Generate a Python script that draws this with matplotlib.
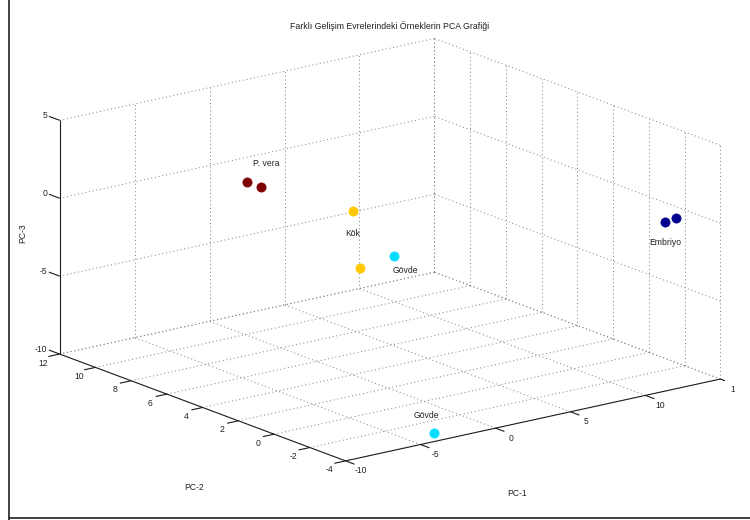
import numpy as np
import matplotlib
matplotlib.use("Agg")
import matplotlib.pyplot as plt
from matplotlib.lines import Line2D
from matplotlib.transforms import Bbox
from mpl_toolkits.mplot3d import proj3d

plt.rcParams["font.family"] = ["Liberation Sans", "DejaVu Sans"]

# ---- PCA scores of the samples -------------------------------------------
sample_group = ["P. vera", "P. vera", "Kök", "Kök", "Gövde", "Gövde", "Embriyo", "Embriyo"]
pc1 = [0.8, 1.2, -6.5, -7.0, -6.0, -3.6, 13.0, 13.6]
pc2 = [10.6, 10.1, -1.5, -2.3, -3.35, -3.6, -2.6, -2.7]
pc3 = [-0.6, -0.8, 4.2, 1.0, 2.0, -9.7, -0.1, 0.1]

group_names = ["P. vera", "Kök", "Gövde", "Embriyo"]
group_colors = ["#7f0000", "#ffc800", "#00ddff", "#00008f"]

# text annotations anchored in data space
label_text = ["P. vera", "Kök", "Gövde", "Gövde", "Embriyo"]
label_pc1 = [1.2, -7.05, -6.1, -5.0, 11.9]
label_pc2 = [10.6, -1.5, -3.35, -3.6, -2.6]
label_pc3 = [0.5, 2.9, 1.1, -8.3, -1.2]

pc1_ticks = [-10, -5, 0, 5, 10, 15]
pc2_ticks = [-4, -2, 0, 2, 4, 6, 8, 10, 12]
pc3_ticks = [-10, -5, 0, 5]

X0, X1 = -10, 15
Y0, Y1 = -4, 12
Z0, Z1 = -10, 5

FS = 6.2
W_PX, H_PX = 750, 520
TXT = "#222222"

fig = plt.figure(figsize=(7.5, 5.2), dpi=100, facecolor="white")
side = 480
ax = fig.add_axes([(W_PX - side) / 2 / W_PX, (H_PX - side) / 2 / H_PX,
                   side / W_PX, side / H_PX],
                  projection="3d", proj_type="ortho")
ax.set_xlim(X0, X1)
ax.set_ylim(Y0, Y1)
ax.set_zlim(Z0, Z1)
ax.set_box_aspect((472, 471, 244))
ax.view_init(elev=16.6, azim=-127.4)
ax.set_axis_off()
ax.computed_zorder = False
ax.patch.set_alpha(0)

grid_kw = dict(color="#8a8a8a", lw=0.75, linestyle=(0, (1, 2.6)), zorder=1)
axis_kw = dict(color="#1a1a1a", lw=0.8, solid_capstyle="butt", zorder=2)

# floor grid (PC-3 = Z0)
for t in pc1_ticks[1:]:
    ax.plot([t, t], [Y0, Y1], [Z0, Z0], **grid_kw)
for t in pc2_ticks[1:]:
    ax.plot([X0, X1], [t, t], [Z0, Z0], **grid_kw)
# back wall at PC-2 = Y1
for t in pc1_ticks[1:]:
    ax.plot([t, t], [Y1, Y1], [Z0, Z1], **grid_kw)
for t in pc3_ticks:
    ax.plot([X0, X1], [Y1, Y1], [t, t], **grid_kw)
# back wall at PC-1 = X1
for t in pc2_ticks:
    ax.plot([X1, X1], [t, t], [Z0, Z1], **grid_kw)
for t in pc3_ticks:
    ax.plot([X1, X1], [Y0, Y1], [t, t], **grid_kw)

# solid axis lines
ax.plot([X0, X1], [Y0, Y0], [Z0, Z0], **axis_kw)
ax.plot([X0, X0], [Y0, Y1], [Z0, Z0], **axis_kw)
ax.plot([X0, X0], [Y1, Y1], [Z0, Z1], **axis_kw)

# tick marks
for t in pc1_ticks:
    ax.plot([t, t], [Y0, Y0 - 0.5], [Z0, Z0], **axis_kw)
for t in pc2_ticks:
    ax.plot([X0, X0 - 0.75], [t, t], [Z0, Z0], **axis_kw)
for t in pc3_ticks:
    ax.plot([X0, X0], [Y1, Y1 + 0.6], [t, t], **axis_kw)

# sample points
for name, col in zip(group_names, group_colors):
    idx = [i for i, g in enumerate(sample_group) if g == name]
    ax.scatter([pc1[i] for i in idx], [pc2[i] for i in idx], [pc3[i] for i in idx],
               s=44, c=col, edgecolors=col, linewidths=0.5,
               depthshade=False, zorder=3)

# ---- place the axes so the box corners land where the layout wants them ----
corner_xyz = np.array([[X0, Y0, Z0], [X1, Y0, Z0], [X0, Y1, Z0],
                       [X0, Y1, Z1], [X1, Y0, Z1], [X1, Y1, Z1]], dtype=float)
corner_px = np.array([[346, 461], [721, 379], [60, 354],
                      [60, 121], [721, 144], [432, 39]], dtype=float)


def project(xyz):
    xyz = np.atleast_2d(np.asarray(xyz, dtype=float))
    xs, ys, _ = proj3d.proj_transform(xyz[:, 0], xyz[:, 1], xyz[:, 2], ax.get_proj())
    return ax.transData.transform(np.column_stack([xs, ys]))


fig.canvas.draw()
disp = project(corner_xyz)
pos = ax.get_position()
left, bottom = pos.x0 * W_PX, pos.y0 * H_PX
w, h = pos.width * W_PX, pos.height * H_PX
rel = disp - np.array([left, bottom])
target = np.column_stack([corner_px[:, 0], H_PX - corner_px[:, 1]])
rm, tm = rel.mean(axis=0), target.mean(axis=0)
k = np.sum((rel - rm) * (target - tm)) / np.sum((rel - rm) ** 2)
off = tm - k * rm
ax.set_position([off[0] / W_PX, off[1] / H_PX, k * w / W_PX, k * h / H_PX])
fig.canvas.draw()


def text3d(x, y, z, s, **kw):
    """Write text at the screen location of a data-space point."""
    px, py = project([x, y, z])[0]
    return fig.text(px / W_PX, py / H_PX, s, fontsize=FS, color=TXT, **kw)


# tick labels
pc1_labels = [text3d(t, Y0 - 0.85, Z0 - 0.28, str(t), ha="center", va="center")
              for t in pc1_ticks]
for t in pc2_ticks:
    text3d(X0 - 1.1, t, Z0 - 0.35, str(t), ha="center", va="center")
for t in pc3_ticks:
    text3d(X0, Y1 + 0.7, t, str(t), ha="right", va="center")

# the last PC-1 label runs into the window edge
for txt in pc1_labels:
    txt.set_clip_box(Bbox.from_extents(0, 0, 735, H_PX))
    txt.set_clip_on(True)

# group annotations
for s, x, y, z in zip(label_text, label_pc1, label_pc2, label_pc3):
    text3d(x, y, z, s, ha="left", va="center")

# axis labels and title
fig.text(23 / W_PX, 1 - 233 / H_PX, "PC-3", fontsize=FS, rotation=90,
         ha="center", va="center", color=TXT)
fig.text(194.5 / W_PX, 1 - 487 / H_PX, "PC-2", fontsize=FS,
         ha="center", va="center", color=TXT)
fig.text(517 / W_PX, 1 - 493 / H_PX, "PC-1", fontsize=FS,
         ha="center", va="center", color=TXT)
fig.text(389.5 / W_PX, 1 - 26 / H_PX,
         "Farklı Gelişim Evrelerindeki Örneklerin PCA Grafiği",
         fontsize=6.3, ha="center", va="center", color=TXT)

# window frame edges
fig.add_artist(Line2D([9 / W_PX, 9 / W_PX], [0, 1], transform=fig.transFigure,
                      color="#333333", lw=1.3))
fig.add_artist(Line2D([9 / W_PX, 1], [1 - 518 / H_PX, 1 - 518 / H_PX],
                      transform=fig.transFigure, color="#333333", lw=1.3))

fig.savefig("out.png", dpi=100, facecolor="white")
